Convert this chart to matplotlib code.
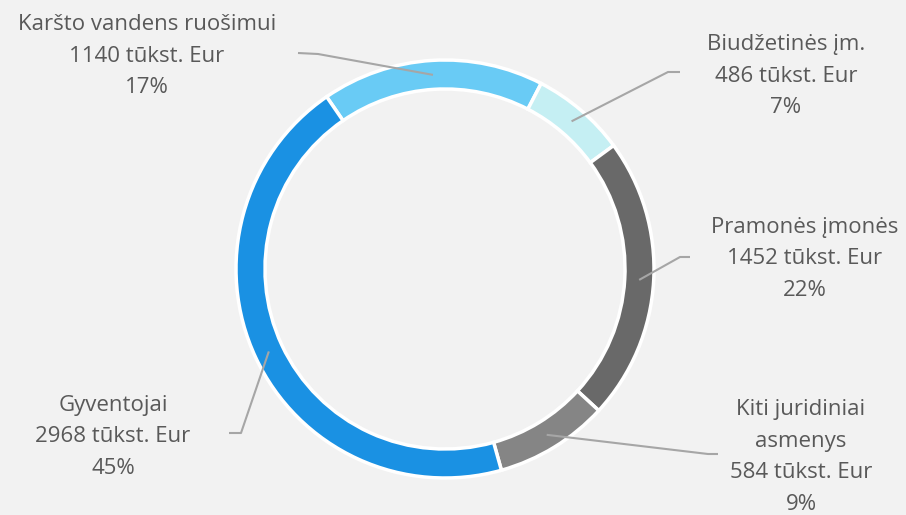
import numpy as np
import matplotlib.pyplot as plt

# duomenys
labels = ["Karšto vandens ruošimui", "Biudžetinės įm.", "Pramonės įmonės",
          "Kiti juridiniai\nasmenys", "Gyventojai"]
values = [1140, 486, 1452, 584, 2968]   # tūkst. Eur
colors = ["#69CBF5", "#C5EFF3", "#696969", "#858585", "#1A91E3"]

# label centres and leader elbows, in pixels from the top-left corner
label_xy = [(147, 56), (786, 76), (805, 259), (801, 457), (113, 437)]
elbows = [[(298, 53), (318, 54)], [(680, 72), (668, 72)], [(690, 257), (680, 257)],
          [(718, 454), (708, 454)], [(229, 433), (241, 433)]]

W, H = 906, 515
cx, cy, R, ring = 445, H - 269, 209, 29

fig = plt.figure(figsize=(W / 100, H / 100), dpi=100, facecolor="#F2F2F2")
ax = fig.add_axes([0, 0, 1, 1])
ax.set_facecolor("#F2F2F2")

wedges, _ = ax.pie(values, colors=colors, center=(cx, cy), radius=R,
                   startangle=124.5, counterclock=False,
                   wedgeprops=dict(width=ring, edgecolor="white", linewidth=2.5))
ax.set_xlim(0, W)
ax.set_ylim(0, H)
ax.set_aspect("equal")
ax.axis("off")

total = sum(values)
for w, lab, v, (tx, ty), elb in zip(wedges, labels, values, label_xy, elbows):
    mid = np.deg2rad((w.theta1 + w.theta2) / 2)
    r = R - ring / 2
    px, py = cx + r * np.cos(mid), cy + r * np.sin(mid)
    xs = [e[0] for e in elb] + [px]
    ys = [H - e[1] for e in elb] + [py]
    ax.plot(xs, ys, color="#A6A6A6", lw=1.5, solid_capstyle="butt")
    txt = f"{lab}\n{v} tūkst. Eur\n{round(100 * v / total)}%"
    ax.text(tx, H - ty, txt, ha="center", va="center", multialignment="center",
            fontsize=16, family=["Open Sans", "DejaVu Sans"], color="#595959",
            linespacing=1.68)

fig.savefig("out.png", dpi=100, facecolor=fig.get_facecolor())
